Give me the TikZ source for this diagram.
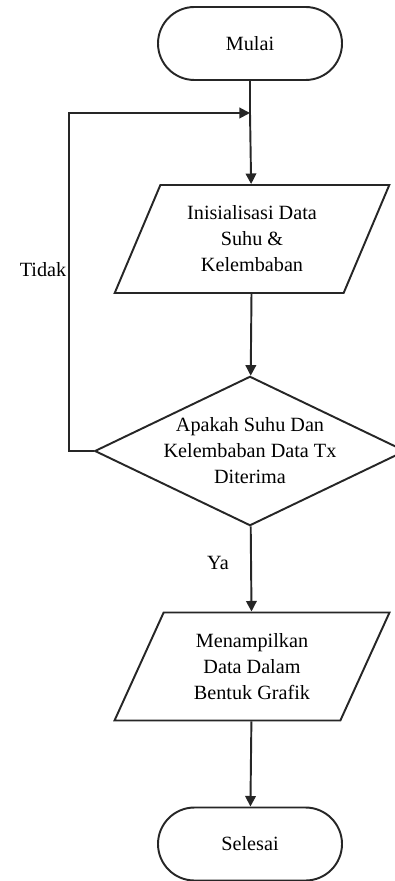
\documentclass[tikz,border=0pt]{standalone}
\usepackage{fontspec}
\setmainfont{Liberation Serif}
\usetikzlibrary{shapes.geometric,shapes.misc,arrows.meta}
\tikzset{flow/.style={line width=1.1pt, draw=black!85, -{Triangle[length=6pt,width=6pt]}}}
\tikzset{box/.style={draw=black!85, line width=1.1pt, fill=white, align=center, inner sep=0pt, font=\fontsize{11.5}{14.8}\selectfont}}
\tikzset{term/.style={box, rounded rectangle, minimum width=3.68cm, minimum height=1.46cm}}
\tikzset{io/.style={box, trapezium, trapezium left angle=64, trapezium right angle=116, trapezium stretches=true, minimum width=5.5cm, minimum height=2.16cm}}
\tikzset{decide/.style={box, diamond, aspect=2.08, minimum width=6cm, minimum height=2.88cm}}
\tikzset{lbl/.style={font=\fontsize{11.5}{14.8}\selectfont}}

\begin{document}
\begin{tikzpicture}
\useasboundingbox (0,0) rectangle (7.88,-17.62);
\node[term] (start) at (5,-0.87) {Mulai};
\node[io] (init) at (5.04,-4.78) {Inisialisasi Data\\Suhu \&\\Kelembaban};
\node[decide] (check) at (5,-9.02) {Apakah Suhu Dan\\Kelembaban Data Tx\\Diterima};
\node[io] (show) at (5.04,-13.33) {Menampilkan\\Data Dalam\\Bentuk Grafik};
\node[term] (stop) at (5,-16.88) {Selesai};
\coordinate (join) at (5,-2.26);
\coordinate (back) at (1.38,-2.26);
\draw[line width=1.1pt, draw=black!85] (start) -- (join);
\draw[flow] (join) -- (init);
\draw[flow] (init) -- (check);
\draw[flow] (check) -- (show);
\draw[flow] (show) -- (stop);
\draw[flow] (check.west) -| (back) -- (join);
\node[lbl] (no) at (0.86,-5.4) {Tidak};
\node[lbl] (yes) at (4.36,-11.26) {Ya};
\end{tikzpicture}
\end{document}
